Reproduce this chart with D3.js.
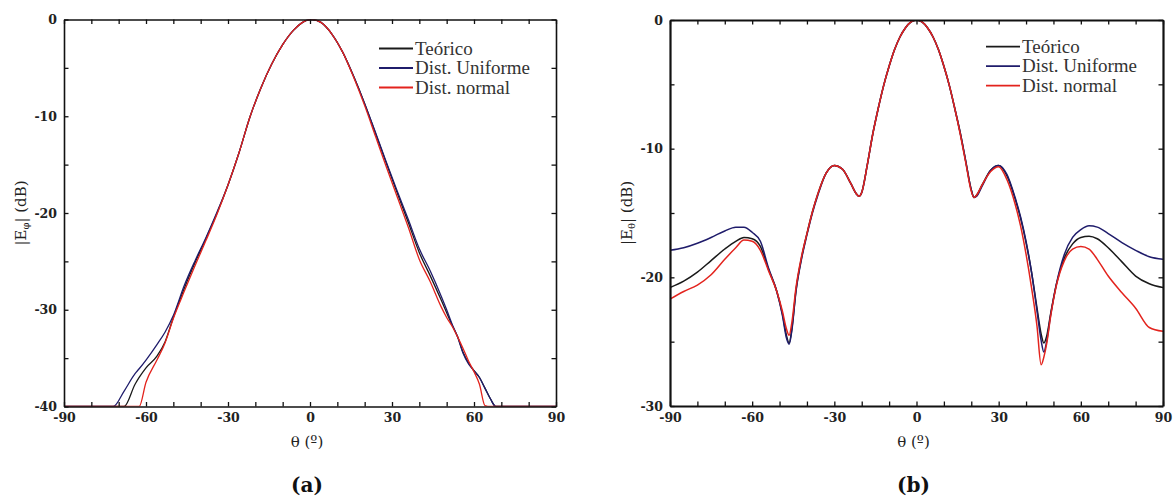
<!DOCTYPE html>
<html>
<head>
<meta charset="utf-8">
<script src="https://cdn.jsdelivr.net/npm/d3@7"></script>
<style>
  body { margin: 0; background: #fff; }
  svg { display: block; }
</style>
</head>
<body>
<div id="chart-area"></div>
<script>
// series shared by both panels
var seriesNames = ["Teórico", "Dist. Uniforme", "Dist. normal"];
var seriesColors = ["#1a1a1a", "#1f1c6b", "#e3231d"];

// panel (a): |E_phi| (dB) vs theta
var thetaA = [-90, -80, -72, -68, -64, -62.5, -60, -56, -53, -50, -46, -42, -38, -34, -30, -26, -22, -18, -14, -10, -6, -3, 0, 1, 4, 8, 12, 16, 20, 24, 28, 32, 36, 40, 44, 48, 50, 52, 54, 56, 58, 60, 62, 64, 66, 68, 72, 80, 90];
var teoricoA = [-40, -40, -40, -40, -37.7, -37.0, -36.0, -34.8, -33.3, -30.8, -27.8, -25.1, -22.6, -20.0, -17.1, -13.8, -10.1, -7.1, -4.6, -2.6, -1.1, -0.35, 0, 0, -0.3, -1.5, -3.4, -5.9, -8.7, -11.8, -14.9, -18.0, -21.0, -24.1, -26.5, -29.0, -30.3, -31.6, -32.8, -34.4, -35.5, -36.3, -37.0, -38.1, -39.2, -40, -40, -40, -40];
var uniformeA = [-40, -40, -40, -38.4, -36.6, -36.1, -35.2, -33.6, -32.3, -30.6, -27.5, -24.9, -22.5, -19.9, -17.1, -13.8, -10.1, -7.1, -4.6, -2.6, -1.1, -0.35, 0, 0, -0.3, -1.5, -3.4, -5.9, -8.7, -11.7, -14.8, -17.8, -20.7, -23.7, -26.0, -28.6, -30.0, -31.5, -32.8, -34.5, -35.6, -36.3, -37.0, -38.1, -39.2, -40, -40, -40, -40];
var normalA = [-40, -40, -40, -40, -40, -40, -37.5, -35.2, -33.4, -30.9, -28.1, -25.4, -22.8, -20.1, -17.1, -13.8, -10.1, -7.1, -4.6, -2.6, -1.1, -0.35, 0, 0, -0.3, -1.5, -3.4, -6.0, -8.9, -12.1, -15.3, -18.4, -21.5, -24.8, -27.1, -29.7, -30.8, -31.7, -32.8, -34.0, -35.3, -36.4, -37.7, -39.9, -40, -40, -40, -40, -40];

// panel (b): |E_theta| (dB) vs theta
var thetaB = [-90, -85, -80, -75, -70, -66, -63, -60, -57, -54, -51, -49, -47.5, -46.5, -45.5, -44, -42, -40, -38, -36, -33, -30, -27, -24, -22, -21, -20, -18, -16, -14, -12, -10, -8, -6, -4, -2, 0, 2, 4, 6, 8, 10, 12, 14, 16, 18, 20, 21, 22, 24, 27, 30, 33, 36, 38, 40, 42, 44, 45.5, 46.5, 47.5, 49, 51, 54, 57, 60, 63, 66, 70, 75, 80, 85, 90];
var teoricoB = [-20.8, -20.3, -19.6, -18.7, -17.8, -17.2, -16.9, -17.0, -17.6, -19.4, -21.1, -22.8, -24.5, -25.1, -24.0, -21.0, -18.5, -16.6, -14.9, -13.5, -11.9, -11.3, -11.6, -12.7, -13.5, -13.7, -13.4, -11.3, -8.9, -6.9, -5.1, -3.6, -2.3, -1.3, -0.6, -0.15, 0, -0.15, -0.6, -1.3, -2.3, -3.6, -5.1, -6.9, -8.8, -11.0, -13.2, -13.8, -13.6, -12.8, -11.7, -11.3, -12.1, -13.9, -15.4, -17.3, -19.6, -22.4, -24.4, -25.1, -24.6, -22.8, -20.6, -18.5, -17.4, -16.9, -16.8, -17.0, -17.7, -18.8, -19.9, -20.5, -20.8];
var uniformeB = [-17.9, -17.7, -17.35, -16.9, -16.4, -16.1, -16.1, -16.5, -17.2, -19.3, -21.1, -22.9, -24.7, -25.2, -24.1, -21.1, -18.6, -16.7, -15.0, -13.6, -11.9, -11.3, -11.6, -12.7, -13.5, -13.7, -13.4, -11.3, -8.9, -6.9, -5.1, -3.6, -2.3, -1.3, -0.6, -0.15, 0, -0.15, -0.6, -1.3, -2.3, -3.6, -5.1, -6.9, -8.8, -11.0, -13.2, -13.8, -13.7, -12.9, -11.7, -11.3, -12.0, -13.8, -15.3, -17.2, -19.6, -22.6, -24.9, -25.8, -25.0, -22.9, -20.6, -18.2, -16.9, -16.3, -16.0, -16.1, -16.6, -17.3, -17.9, -18.4, -18.6];
var normalB = [-21.7, -21.1, -20.6, -19.8, -18.6, -17.7, -17.1, -17.2, -17.9, -19.5, -21.1, -22.6, -24.0, -24.5, -23.5, -20.8, -18.4, -16.6, -14.9, -13.5, -11.9, -11.3, -11.6, -12.7, -13.5, -13.7, -13.4, -11.3, -8.9, -6.9, -5.1, -3.6, -2.3, -1.3, -0.6, -0.15, 0, -0.15, -0.6, -1.3, -2.3, -3.6, -5.1, -6.9, -8.9, -11.1, -13.3, -13.8, -13.6, -12.8, -11.8, -11.4, -12.4, -14.3, -16.0, -18.2, -20.8, -23.8, -26.8, -26.2, -25.2, -23.0, -20.7, -18.7, -17.8, -17.6, -17.8, -18.6, -19.9, -21.2, -22.4, -23.9, -24.2];

var xTicks = [-90, -60, -30, 0, 30, 60, 90];

var width = 1173, height = 498;

var svg = d3.select("#chart-area")
  .append("svg")
  .attr("width", width)
  .attr("height", height)
  .style("background", "#fff");

var numFont = "'DejaVu Serif', serif";

function drawPanel(p) {
  var x = d3.scaleLinear().domain([-90, 90]).range([p.left, p.right]);
  var y = d3.scaleLinear().domain([p.yMin, 0]).range([p.bottom, p.top]);
  var tickLen = 4.5;

  var clipId = "clip-" + p.id;
  svg.append("clipPath").attr("id", clipId)
    .append("rect")
    .attr("x", p.left).attr("y", p.top)
    .attr("width", p.right - p.left).attr("height", p.bottom - p.top);

  // curves
  var line = d3.line()
    .x(d => x(d[0]))
    .y(d => y(d[1]))
    .curve(d3.curveMonotoneX);

  var lines = svg.append("g").attr("clip-path", "url(#" + clipId + ")");
  p.series.forEach((vals, i) => {
    var pts = p.theta.map((t, k) => [t, vals[k]]);
    lines.append("path")
      .datum(pts)
      .attr("fill", "none")
      .attr("stroke", seriesColors[i])
      .attr("stroke-width", p.lineWidth)
      .attr("d", line);
  });

  var yTicks = d3.range(p.yMin, 0.1, 5);
  var xMinor = d3.range(-90, 91, 10);

  var bottom = svg.append("g")
    .attr("transform", "translate(0," + p.bottom + ")")
    .call(d3.axisBottom(x).tickValues(xMinor).tickSizeInner(-tickLen).tickSizeOuter(0).tickPadding(7)
      .tickFormat(d => xTicks.indexOf(d) >= 0 ? d : ""));
  var left = svg.append("g")
    .attr("transform", "translate(" + p.left + ",0)")
    .call(d3.axisLeft(y).tickValues(yTicks).tickSizeInner(-tickLen).tickSizeOuter(0).tickPadding(7)
      .tickFormat(d => d % 10 === 0 ? d : ""));
  var top = svg.append("g")
    .attr("transform", "translate(0," + p.top + ")")
    .call(d3.axisTop(x).tickValues(xMinor).tickSizeInner(-tickLen).tickSizeOuter(0).tickFormat(""));
  var right = svg.append("g")
    .attr("transform", "translate(" + p.right + ",0)")
    .call(d3.axisRight(y).tickValues(yTicks).tickSizeInner(-tickLen).tickSizeOuter(0).tickFormat(""));

  [bottom, left, top, right].forEach(g => {
    g.select(".domain").attr("stroke", "#111").attr("stroke-width", p.axisWidth);
    g.selectAll(".tick line").attr("stroke", "#111").attr("stroke-width", 1.3);
    g.selectAll("text")
      .attr("fill", "#222")
      .style("font-family", numFont)
      .style("font-size", "12.5px")
      .style("font-weight", "bold");
  });

  // axis titles
  svg.append("text")
    .attr("x", x(0) - 3)
    .attr("y", 447)
    .attr("text-anchor", "middle")
    .style("font-family", numFont)
    .style("font-size", "15px")
    .attr("fill", "#222")
    .text("θ (º)");

  var yt = svg.append("text")
    .attr("transform", "translate(" + p.yTitleX + "," + ((p.top + p.bottom) / 2) + ") rotate(-90)")
    .attr("text-anchor", "middle")
    .attr("dy", "0.35em")
    .style("font-family", numFont)
    .style("font-size", "15px")
    .attr("fill", "#222");
  yt.append("tspan").text("|E");
  yt.append("tspan").attr("dy", 3).style("font-size", "10px").text(p.sub);
  yt.append("tspan").attr("dy", -3).text("| (dB)");

  // panel label
  svg.append("text")
    .attr("x", x(0) - 3)
    .attr("y", 492)
    .attr("text-anchor", "middle")
    .style("font-family", numFont)
    .style("font-size", "20px")
    .style("font-weight", "bold")
    .attr("fill", "#111")
    .text(p.label);

  // legend
  var leg = svg.append("g");
  seriesNames.forEach((name, i) => {
    var ly = p.legendY + i * 19.5;
    leg.append("line")
      .attr("x1", p.legendX).attr("x2", p.legendX + 34)
      .attr("y1", ly).attr("y2", ly)
      .attr("stroke", seriesColors[i])
      .attr("stroke-width", 1.8);
    leg.append("text")
      .attr("x", p.legendX + 36)
      .attr("y", ly)
      .attr("dy", "0.33em")
      .style("font-family", "'Liberation Serif', serif")
      .style("font-size", "19px")
      .attr("fill", "#333")
      .text(name);
  });
}

drawPanel({
  id: "a", left: 64, right: 556, top: 19.5, bottom: 406.5, yMin: -40,
  theta: thetaA, series: [teoricoA, uniformeA, normalA],
  lineWidth: 1.3, axisWidth: 1.6, sub: "φ", label: "(a)",
  yTitleX: 21, legendX: 379, legendY: 48.5
});

drawPanel({
  id: "b", left: 670, right: 1163, top: 20, bottom: 406, yMin: -30,
  theta: thetaB, series: [teoricoB, uniformeB, normalB],
  lineWidth: 1.5, axisWidth: 2.2, sub: "θ", label: "(b)",
  yTitleX: 627, legendX: 986, legendY: 46.7
});
</script>
</body>
</html>
